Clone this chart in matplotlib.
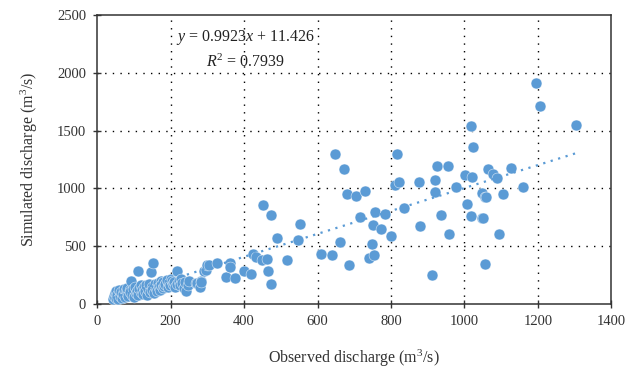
import matplotlib
matplotlib.use("Agg")
import matplotlib.pyplot as plt
import numpy as np

# observed vs simulated discharge (m3/s)
observed = [
    42, 45, 48, 50, 52, 55, 58, 60, 62, 65, 68, 70, 72, 75, 78, 80, 82, 85, 88, 90,
    92, 95, 98, 100, 103, 105, 108, 110, 112, 115, 118, 120, 122, 125, 128, 130, 132, 135, 138, 140,
    143, 146, 148, 150, 153, 155, 158, 160, 163, 165, 168, 170, 173, 175, 178, 180, 183, 186, 190, 192,
    195, 198, 200, 203, 206, 210, 213, 216, 218, 222, 225, 228, 232, 236, 240, 243, 246, 250, 270, 273,
    279, 282, 284, 291, 295, 298, 304, 325, 351, 363, 363, 376, 399, 420, 423, 432, 449, 452, 462, 464,
    474, 474, 489, 518, 547, 551, 610, 639, 648, 662, 671, 680, 685, 704, 715, 728, 739, 747, 752, 753,
    756, 774, 785, 801, 811, 816, 822, 835, 875, 878, 913, 920, 920, 925, 935, 954, 958, 978, 1001, 1008,
    1017, 1019, 1021, 1023, 1047, 1049, 1051, 1055, 1057, 1058, 1065, 1079, 1090, 1094, 1105, 1128, 1160, 1195,
    1207, 1305,
]
simulated = [
    45, 70, 95, 55, 110, 80, 40, 125, 65, 100, 50, 85, 130, 60, 110, 90, 140, 70, 120, 100,
    200, 80, 130, 60, 150, 95, 115, 75, 285, 140, 100, 165, 120, 90, 145, 110, 160, 80, 130, 175,
    100, 280, 150, 120, 358, 95, 170, 135, 110, 180, 150, 125, 200, 165, 140, 190, 155, 175, 210, 145,
    185, 165, 215, 200, 170, 190, 150, 286, 175, 200, 160, 220, 180, 140, 190, 110, 165, 200, 180, 179,
    151, 202, 194, 289, 294, 335, 337, 357, 231, 357, 323, 223, 283, 257, 429, 403, 380, 860, 386, 289,
    774, 177, 571, 380, 551, 691, 431, 420, 1299, 534, 1170, 951, 339, 934, 756, 980, 399, 517, 681, 420,
    793, 647, 779, 586, 1032, 1296, 1060, 828, 1060, 678, 247, 1072, 968, 1193, 773, 1193, 609, 1009, 1118, 862,
    1543, 761, 1096, 1362, 741, 964, 744, 926, 349, 928, 1164, 1125, 1088, 609, 955, 1180, 1009, 1915,
    1716, 1549,
]
slope = 0.9923
intercept = 11.426
r2 = 0.7939

xticks = [0, 200, 400, 600, 800, 1000, 1200, 1400]
yticks = [0, 500, 1000, 1500, 2000, 2500]

plt.rcParams["font.family"] = "Liberation Serif"
plt.rcParams["mathtext.fontset"] = "custom"
plt.rcParams["mathtext.rm"] = "Liberation Serif"
plt.rcParams["mathtext.it"] = "Liberation Serif:italic"

blue = "#5b9bd5"
fig = plt.figure(figsize=(6.27, 3.79), dpi=100)
ax = fig.add_axes([0.155, 0.198, 0.82, 0.762])

ax.scatter(observed, simulated, s=62, color=blue, edgecolors="white", linewidths=0.3, zorder=3)

xs = np.array([min(observed), max(observed)])
ax.plot(xs, slope * xs + intercept, color=blue, lw=1.6, linestyle=(0, (1, 2.5)), zorder=4)

ax.set_xlim(0, 1400)
ax.set_ylim(0, 2500)
ax.set_xticks(xticks)
ax.set_yticks(yticks)
ax.tick_params(direction="inout", length=6, width=1, labelsize=10.5, colors="#333333",
               labelcolor="#333333", pad=5)

# dotted grid, skip the lines sitting on the frame
for v in xticks[1:-1]:
    ax.axvline(v, color="black", lw=1, linestyle=(0, (1, 4.5)), zorder=1)
for v in yticks[1:-1]:
    ax.axhline(v, color="black", lw=1, linestyle=(0, (1, 4.5)), zorder=1)

for sp in ax.spines.values():
    sp.set_color("#333333")
    sp.set_linewidth(1.1)

ax.set_xlabel("Observed discharge (m$^3$/s)", fontsize=11.5, color="#333333", labelpad=14)
ax.set_ylabel("Simulated discharge (m$^3$/s)", fontsize=11.5, color="#333333", labelpad=12)

ax.text(404, 2310, "$y$ = 0.9923$x$ + 11.426", ha="center", va="center", fontsize=11.5, color="#222222")
ax.text(404, 2095, "$R^2$ = %.4f" % r2, ha="center", va="center", fontsize=11.5, color="#222222")

fig.savefig("out.png", dpi=100)
